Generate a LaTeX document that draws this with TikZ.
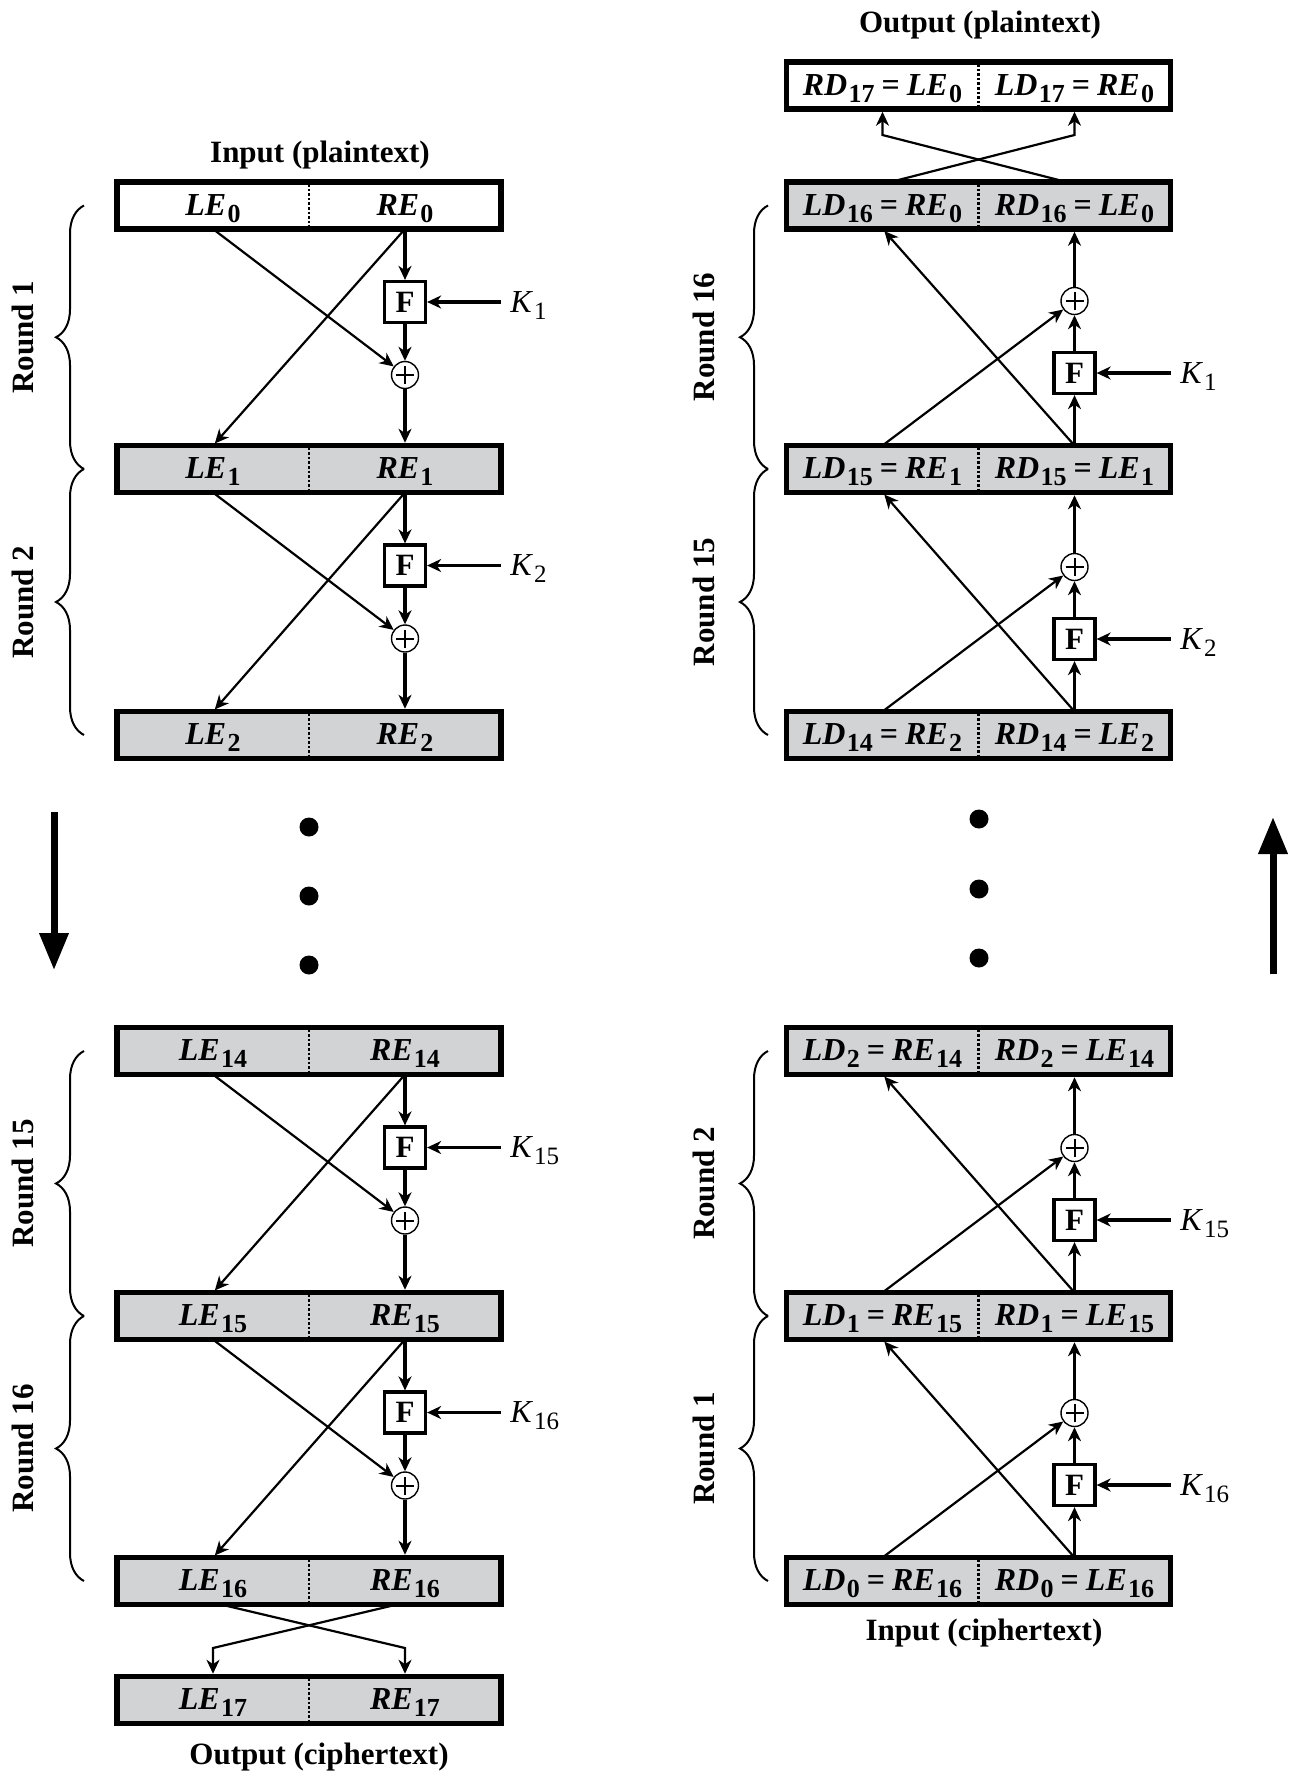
\documentclass[tikz,border=0pt]{standalone}
\usepackage{fontspec}
\setmainfont{Liberation Serif}
\usetikzlibrary{arrows.meta,decorations.pathreplacing,calc}
\definecolor{boxgray}{HTML}{D1D3D4}

\newcommand\sbx[1]{\hspace{0.04em}\raisebox{-3.5pt}{\fontsize{13}{14}\selectfont\bfseries\upshape #1}}
\newcommand\ksb[1]{\hspace{0.03em}\raisebox{-3.5pt}{\fontsize{12.5}{14}\selectfont\mdseries\upshape #1}}
\newcommand\eqs{\hspace{0.22em}{\upshape=}\hspace{0.22em}}

\tikzset{
  half/.style={minimum width=96pt, minimum height=23.5pt, inner sep=0pt, outer sep=0pt,
    text height=9.8pt, text depth=0pt, font=\fontsize{16}{18}\selectfont\bfseries\itshape},
  frame/.style={line width=2.75pt},
  divider/.style={densely dotted, line width=1.3pt},
  tipA/.style={-{Stealth[length=7pt,width=6.5pt,inset=2.2pt]}},
  diag/.style={tipA, line width=1.1pt},
  vert/.style={tipA, line width=1.8pt},
  tobox/.style={shorten >=1.375pt},
  fbox/.style={draw, line width=1.6pt, minimum size=20.5pt, inner sep=0pt, fill=white,
    font=\fontsize{15.5}{18}\selectfont\bfseries},
  xor/.style={circle, draw, line width=0.7pt, minimum size=13.5pt, inner sep=0pt, fill=white,
    path picture={\draw[line width=1pt]
      ([xshift=-4.5pt]path picture bounding box.center) -- ([xshift=4.5pt]path picture bounding box.center)
      ([yshift=-4.5pt]path picture bounding box.center) -- ([yshift=4.5pt]path picture bounding box.center);}},
  klabel/.style={anchor=west, inner xsep=4.5pt, inner ysep=0pt, text height=10.4pt, text depth=0pt,
    font=\fontsize{16}{18}\selectfont},
  title/.style={anchor=base, inner sep=0pt, font=\fontsize{15.5}{18}\selectfont\bfseries},
  roundlbl/.style={rotate=90, inner sep=0pt, font=\fontsize{15.5}{18}\selectfont\bfseries},
  brc/.style={decorate, decoration={brace, amplitude=14pt}, line width=1pt},
  dot/.style={circle, fill=black, minimum size=9.5pt, inner sep=0pt},
  bigarr/.style={line width=3.5pt, -{Triangle[length=18.5pt,width=14pt]}},
}

% row: name, x centre, y centre, fill, left text, right text
\newcommand\frow[6]{%
  \draw[frame, fill=#4] ({#2-192},{#3-23.5}) rectangle ({#2+192},{#3+23.5});
  \draw[divider] (#2,{#3-21.5}) -- (#2,{#3+21.5});
  \node[half] (#1l) at ({#2-96},#3) {#5};
  \node[half] (#1r) at ({#2+96},#3) {#6};
}
% encryption round: upper row, lower row, upper y, key index, tag
\newcommand\encround[5]{%
  \node[fbox] (F#5) at (405,{#3+96.5}) {F};
  \node[xor] (X#5) at (405,{#3+169.5}) {};
  \node[klabel] (K#5) at (501,{#3+96.5}) {\textit{K}\ksb{#4}};
  \draw[diag] (#1l.south) -- (X#5);
  \draw[diag, tobox] (#1r.south) -- (#2l.north);
  \draw[vert] (#1r.south) -- (F#5.north);
  \draw[vert] (F#5.south) -- (X#5.north);
  \draw[vert, tobox] (X#5.south) -- (#2r.north);
  \draw[vert] (K#5.west) -- (F#5.east);
}
% decryption round: lower row, upper row, lower y, key index, tag
\newcommand\decround[5]{%
  \node[fbox] (F#5) at (1074.5,{#3-96}) {F};
  \node[xor] (X#5) at (1074.5,{#3-168}) {};
  \node[klabel] (K#5) at (1171,{#3-96}) {\textit{K}\ksb{#4}};
  \draw[diag] (#1l.north) -- (X#5);
  \draw[diag, tobox] (#1r.north) -- (#2l.south);
  \draw[vert] (#1r.north) -- (F#5.south);
  \draw[vert] (F#5.north) -- (X#5.south);
  \draw[vert, tobox] (X#5.north) -- (#2r.south);
  \draw[vert] (K#5.west) -- (F#5.east);
}

\begin{document}
\begin{tikzpicture}[x=0.5pt, y=-0.5pt]
\useasboundingbox (0,0) rectangle (1297,1773);

% ---------- left: encryption ----------
\node[title] (tIn) at (320,162) {Input (plaintext)};
\frow{E0}{309}{205.5}{white}{LE\sbx{0}}{RE\sbx{0}}
\frow{E1}{309}{469}{boxgray}{LE\sbx{1}}{RE\sbx{1}}
\frow{E2}{309}{735}{boxgray}{LE\sbx{2}}{RE\sbx{2}}
\frow{E14}{309}{1051}{boxgray}{LE\sbx{14}}{RE\sbx{14}}
\frow{E15}{309}{1316}{boxgray}{LE\sbx{15}}{RE\sbx{15}}
\frow{E16}{309}{1581}{boxgray}{LE\sbx{16}}{RE\sbx{16}}
\frow{E17}{309}{1700}{boxgray}{LE\sbx{17}}{RE\sbx{17}}
\node[title] (tOut) at (319,1764) {Output (ciphertext)};

\encround{E0}{E1}{205.5}{1}{a}
\encround{E1}{E2}{469}{2}{b}
\encround{E14}{E15}{1051}{15}{c}
\encround{E15}{E16}{1316}{16}{d}

\coordinate (swa) at (405,1648);
\coordinate (swb) at (213,1648);
\draw[diag, tobox] ($(E16l.south)+(8,0)$) -- (swa) -- (E17r.north);
\draw[diag, tobox] ($(E16r.south)+(-8,0)$) -- (swb) -- (E17l.north);

\draw[brc] (84,469) -- (84,205.5);
\draw[brc] (84,735) -- (84,469);
\draw[brc] (84,1316) -- (84,1051);
\draw[brc] (84,1581) -- (84,1316);
\node[roundlbl] (rA) at (23,337) {Round 1};
\node[roundlbl] (rB) at (23,602) {Round 2};
\node[roundlbl] (rC) at (23,1183.5) {Round 15};
\node[roundlbl] (rD) at (23,1448.5) {Round 16};

\node[dot] (dL1) at (309,827) {};
\node[dot] (dL2) at (309,896) {};
\node[dot] (dL3) at (309,965) {};
\coordinate (daS) at (54,812);
\coordinate (daE) at (54,970);
\draw[bigarr] (daS) -- (daE);

% ---------- right: decryption ----------
\node[title] (tOutP) at (980,32) {Output (plaintext)};
\frow{D17}{978.5}{85.5}{white}{RD\sbx{17}\eqs LE\sbx{0}}{LD\sbx{17}\eqs RE\sbx{0}}
\frow{D16}{978.5}{205.5}{boxgray}{LD\sbx{16}\eqs RE\sbx{0}}{RD\sbx{16}\eqs LE\sbx{0}}
\frow{D15}{978.5}{469}{boxgray}{LD\sbx{15}\eqs RE\sbx{1}}{RD\sbx{15}\eqs LE\sbx{1}}
\frow{D14}{978.5}{735}{boxgray}{LD\sbx{14}\eqs RE\sbx{2}}{RD\sbx{14}\eqs LE\sbx{2}}
\frow{D2}{978.5}{1051}{boxgray}{LD\sbx{2}\eqs RE\sbx{14}}{RD\sbx{2}\eqs LE\sbx{14}}
\frow{D1}{978.5}{1316}{boxgray}{LD\sbx{1}\eqs RE\sbx{15}}{RD\sbx{1}\eqs LE\sbx{15}}
\frow{D0}{978.5}{1581}{boxgray}{LD\sbx{0}\eqs RE\sbx{16}}{RD\sbx{0}\eqs LE\sbx{16}}
\node[title] (tInC) at (984,1640) {Input (ciphertext)};

\decround{D15}{D16}{469}{1}{e}
\decround{D14}{D15}{735}{2}{f}
\decround{D1}{D2}{1316}{15}{g}
\decround{D0}{D1}{1581}{16}{h}

\coordinate (swc) at (1074.5,135);
\coordinate (swd) at (882.5,135);
\draw[diag, tobox] ($(D16l.north)+(8,0)$) -- (swc) -- (D17r.south);
\draw[diag, tobox] ($(D16r.north)+(-8,0)$) -- (swd) -- (D17l.south);

\draw[brc] (768,469) -- (768,205.5);
\draw[brc] (768,735) -- (768,469);
\draw[brc] (768,1316) -- (768,1051);
\draw[brc] (768,1581) -- (768,1316);
\node[roundlbl] (rE) at (704,337) {Round 16};
\node[roundlbl] (rF) at (704,602) {Round 15};
\node[roundlbl] (rG) at (704,1183.5) {Round 2};
\node[roundlbl] (rH) at (704,1448.5) {Round 1};

\node[dot] (dR1) at (979,819) {};
\node[dot] (dR2) at (979,889) {};
\node[dot] (dR3) at (979,958) {};
\coordinate (uaS) at (1273,974);
\coordinate (uaE) at (1273,817);
\draw[bigarr] (uaS) -- (uaE);
\end{tikzpicture}
\end{document}
